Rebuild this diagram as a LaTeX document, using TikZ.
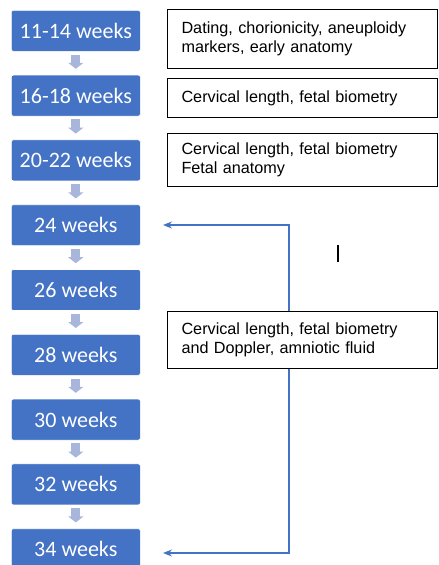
\documentclass[tikz,border=0pt]{standalone}
\usepackage{fontspec}
\setmainfont{Liberation Sans}
\newfontfamily\calib{Carlito}
\usetikzlibrary{arrows.meta,calc}
\definecolor{wkblue}{RGB}{68,114,196}
\definecolor{gapgray}{RGB}{168,182,220}
\begin{document}
\begin{tikzpicture}[x=1pt,y=-1pt,
  week/.style={draw=white, line width=0.6pt, fill=wkblue, rounded corners=2pt,
    minimum width=129pt, minimum height=41pt, anchor=north west, inner sep=0pt,
    text=white, font=\calib\fontsize{22}{25}\selectfont},
  note/.style={draw=black, line width=1.1pt, anchor=north west, minimum width=270pt,
    text width=242pt, align=left, inner xsep=14pt, inner ysep=0pt,
    font=\fontsize{16.2}{19}\selectfont},
  gap/.style={draw=gapgray, line width=9pt, -{Triangle[width=15pt,length=6pt]}},
  link/.style={draw=wkblue, line width=1.2pt, -{Stealth[length=9pt,width=7pt]}}]
\path[use as bounding box] (0,0) rectangle (439,565);
\clip (0,0) rectangle (439,565);

\foreach \i/\t in {1/11-14 weeks,2/16-18 weeks,3/20-22 weeks,4/24 weeks,5/26 weeks,6/28 weeks,7/30 weeks,8/32 weeks,9/34 weeks}{
  \node[week] (w\i) at (11,{10+64.8*(\i-1)}) {\t};
}
\foreach \i [evaluate=\i as \j using int(\i+1)] in {1,...,8}{
  \draw[gap] ($(w\i.south)+(0,3)$) -- ($(w\j.north)+(0,-6)$);
}

\node[note, minimum height=59pt] (nA) at (167,9) {Dating, chorionicity, aneuploidy\\markers, early anatomy};
\node[note, minimum height=39pt] (nB) at (167,78) {Cervical length, fetal biometry};
\node[note, minimum height=53pt] (nC) at (167,133) {Cervical length, fetal biometry\\Fetal anatomy};
\node[note, minimum height=57pt] (nD) at (167,311) {Cervical length, fetal biometry\\and Doppler, amniotic fluid};

\coordinate (t1) at (163,225);
\coordinate (t2) at (163,553);
\draw[link] ($(nD.north west)+(122,0)$) |- (t1);
\draw[link] ($(nD.south west)+(122,0)$) |- (t2);

\coordinate (c1) at (338,245);
\coordinate (c2) at (338,262);
\draw[line width=1.2pt] (c1) -- (c2);
\end{tikzpicture}
\end{document}
